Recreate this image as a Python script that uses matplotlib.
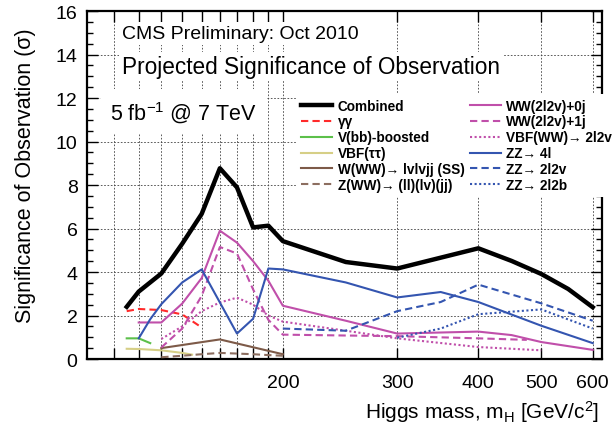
import matplotlib.pyplot as plt
from matplotlib.ticker import FixedLocator, MultipleLocator, NullLocator

# --- datos (m_H en GeV, significancia en sigma) ---
comb_m = [115, 120, 130, 140, 150, 160, 170, 180, 190, 200, 250, 300, 400, 450, 500, 550, 600]
comb_s = [2.4, 3.1, 3.93, 5.3, 6.67, 8.77, 7.89, 6.05, 6.13, 5.42, 4.46, 4.16, 5.09, 4.51, 3.91, 3.22, 2.38]

gg_m = [115, 120, 130, 140, 150]
gg_s = [2.2, 2.3, 2.25, 2.05, 1.45]

vbb_m = [115, 120, 125]
vbb_s = [0.95, 0.95, 0.73]

vbftt_m = [115, 120, 130, 140, 145]
vbftt_s = [0.47, 0.46, 0.4, 0.28, 0.2]

wss_m = [130, 160, 200]
wss_s = [0.5, 0.9, 0.22]

zww_m = [130, 140, 150, 160, 170, 180, 190, 200]
zww_s = [0.08, 0.15, 0.22, 0.28, 0.25, 0.22, 0.18, 0.15]

ww0_m = [120, 130, 140, 150, 160, 170, 180, 190, 200, 250, 300, 400, 450, 500, 600]
ww0_s = [1.68, 1.68, 2.55, 3.72, 5.9, 5.35, 4.5, 3.6, 2.45, 1.76, 1.17, 1.26, 1.1, 0.78, 0.42]

ww1_m = [130, 140, 150, 160, 170, 180, 190, 200, 250, 300, 400, 475]
ww1_s = [0.53, 1.4, 2.9, 5.15, 4.85, 3.2, 1.8, 1.12, 1.08, 1.05, 0.95, 0.88]

vbfww_m = [130, 140, 150, 160, 170, 180, 190, 200, 250, 300, 400, 500]
vbfww_s = [0.92, 1.5, 2.2, 2.6, 2.82, 2.5, 2.0, 1.72, 1.3, 0.95, 0.55, 0.4]

zz4l_m = [120, 125, 130, 140, 150, 170, 180, 190, 200, 250, 300, 350, 400, 500, 600]
zz4l_s = [0.95, 1.83, 2.52, 3.52, 4.12, 1.17, 1.85, 4.16, 4.12, 3.52, 2.83, 3.08, 2.62, 1.53, 0.73]

zz2l2v_m = [200, 250, 300, 350, 400, 500, 600]
zz2l2v_s = [1.4, 1.3, 2.2, 2.62, 3.42, 2.56, 1.76]

zz2l2b_m = [300, 350, 400, 500, 600]
zz2l2b_s = [0.98, 1.4, 2.06, 2.28, 1.4]

grid_m = [110, 120, 130, 140, 150, 160, 170, 180, 190, 200, 300, 400, 500, 600]
label_m = [200, 300, 400, 500, 600]

plt.rcParams['font.family'] = ['Liberation Sans', 'DejaVu Sans']
plt.rcParams['mathtext.fontset'] = 'custom'
plt.rcParams['mathtext.rm'] = 'Liberation Sans'
plt.rcParams['mathtext.it'] = 'Liberation Sans:italic'

fig = plt.figure(figsize=(6.13, 4.35), dpi=100)
ax = fig.add_axes([0.1424, 0.1724, 0.8396, 0.80])
ax.set_xscale('log')
ax.set_xlim(100, 620)
ax.set_ylim(0, 16)

ax.xaxis.set_major_locator(FixedLocator(grid_m))
ax.xaxis.set_minor_locator(NullLocator())
ax.set_xticklabels([str(m) if m in label_m else '' for m in grid_m])
ax.yaxis.set_major_locator(MultipleLocator(2))
ax.yaxis.set_minor_locator(MultipleLocator(0.5))
ax.tick_params(which='both', direction='in', top=True, right=True, width=1)
ax.tick_params(which='major', length=8, labelsize=14)
ax.tick_params(which='minor', length=4)
ax.tick_params(axis='x', pad=11)
ax.tick_params(axis='y', pad=7)
for sp in ax.spines.values():
    sp.set_linewidth(1.6)
ax.grid(True, which='major', linestyle=(0, (2, 2)), lw=0.6, color='0.25', zorder=0)
ax.set_axisbelow(True)

magenta = '#c04faa'
blue = '#3455b0'
lw = 1.5
ax.plot(comb_m, comb_s, color='black', lw=3.2, label='Combined', zorder=6)
ax.plot(gg_m, gg_s, color='#ff2a2a', lw=lw, dashes=(3.5, 2), label='γγ', zorder=5)
ax.plot(vbb_m, vbb_s, color='#5cc04a', lw=lw, label='V(bb)-boosted', zorder=5)
ax.plot(vbftt_m, vbftt_s, color='#d6cf86', lw=lw, label='VBF(ττ)', zorder=5)
ax.plot(wss_m, wss_s, color='#7d5a48', lw=lw, label='W(WW)→ lvlvjj (SS)', zorder=5)
ax.plot(zww_m, zww_s, color='#8c6e60', lw=lw, dashes=(3.5, 2), label='Z(WW)→ (ll)(lv)(jj)', zorder=5)
ax.plot(ww0_m, ww0_s, color=magenta, lw=lw, label='WW(2l2v)+0j', zorder=5)
ax.plot(ww1_m, ww1_s, color=magenta, lw=lw, dashes=(3.5, 2), label='WW(2l2v)+1j', zorder=5)
ax.plot(vbfww_m, vbfww_s, color=magenta, lw=lw, dashes=(1, 1.2), label='VBF(WW)→ 2l2v', zorder=5)
ax.plot(zz4l_m, zz4l_s, color=blue, lw=lw, label='ZZ→ 4l', zorder=5)
ax.plot(zz2l2v_m, zz2l2v_s, color=blue, lw=lw, dashes=(3.5, 2), label='ZZ→ 2l2v', zorder=5)
ax.plot(zz2l2b_m, zz2l2b_s, color=blue, lw=lw, dashes=(1, 1.2), label='ZZ→ 2l2b', zorder=5)

leg = ax.legend(ncol=2, loc='upper left', bbox_to_anchor=(0.4055, 0.762),
                prop={'size': 9.8, 'weight': 'bold'}, handlelength=2.3, handletextpad=0.4,
                columnspacing=0.4, labelspacing=0.14, borderpad=0.35, borderaxespad=0,
                frameon=True, fancybox=False, framealpha=1)
leg.get_frame().set_facecolor('white')
leg.get_frame().set_edgecolor('none')
leg.set_zorder(10)

box = dict(facecolor='white', edgecolor='none', pad=2)
ax.text(0.0678, 0.935, 'CMS Preliminary: Oct 2010', transform=ax.transAxes,
        fontsize=14, va='center', ha='left', bbox=box, zorder=8)
ax.text(0.0678, 0.84, 'Projected Significance of Observation', transform=ax.transAxes,
        fontsize=16.3, va='center', ha='left', bbox=box, zorder=8)
ax.text(0.045, 0.71, '5 fb$^{-1}$ @ 7 TeV', transform=ax.transAxes,
        fontsize=15.5, va='center', ha='left', bbox=dict(facecolor='white', edgecolor='none', pad=7), zorder=8)

ax.text(-0.121, 0.53, 'Significance of Observation (σ)', transform=ax.transAxes,
        fontsize=15.5, rotation=90, va='center', ha='center')
ax.text(0.995, -0.149, 'Higgs mass, m$_\\mathrm{H}$ [GeV/c$^2$]', transform=ax.transAxes,
        fontsize=15, va='center', ha='right')

fig.savefig('out.png', dpi=100)
